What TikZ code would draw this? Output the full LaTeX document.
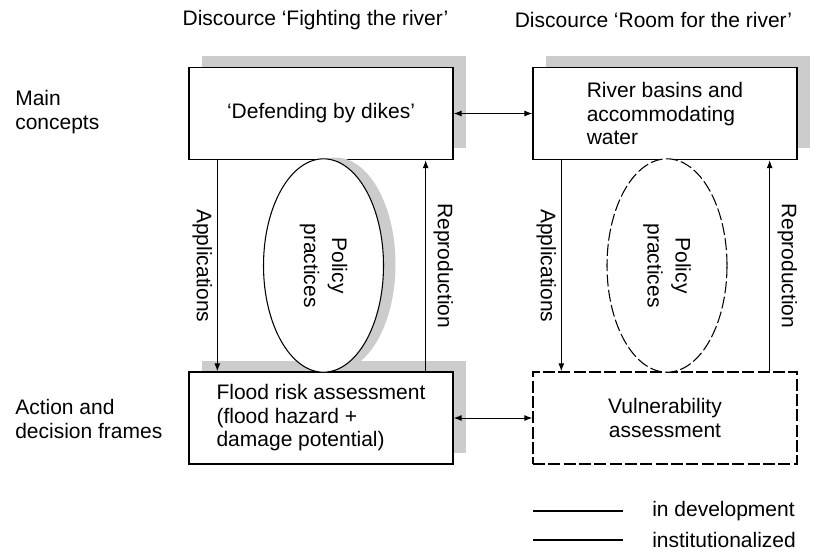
\documentclass[tikz,border=0pt]{standalone}
\usepackage{fontspec}
\setmainfont{Liberation Sans}
\usetikzlibrary{arrows.meta,shapes.geometric,shadows,calc}
\tikzset{
  frame/.style={draw, line width=1pt, fill=white, minimum width=198pt, minimum height=69pt, inner sep=0pt},
  boxshadow/.style={drop shadow={shadow xshift=10pt, shadow yshift=8.5pt, fill=gray!40, opacity=1}},
  practice/.style={draw, ellipse, line width=0.8pt, fill=white, minimum width=90pt, minimum height=160pt, inner sep=0pt},
  ovalshadow/.style={drop shadow={shadow xshift=9pt, shadow yshift=1pt, fill=gray!40, opacity=1}},
  newer/.style={dash pattern=on 9pt off 2.5pt},
  flow/.style={-{Latex[length=6pt,width=4.5pt]}, line width=0.75pt},
  twoway/.style={{Latex[length=6pt,width=4.5pt]}-{Latex[length=6pt,width=4.5pt]}, line width=0.75pt},
  sidelbl/.style={align=left, anchor=west, inner sep=0pt},
}
\begin{document}
\begin{tikzpicture}[x=0.75pt, y=-0.75pt, font=\fontsize{15.75}{17.6}\selectfont]
  \useasboundingbox (0,0) rectangle (816,551);
  % headings and row labels
  \node (hdfight) at (315.5,20) {Discource ‘Fighting the river’};
  \node (hdroom) at (653.5,20) {Discource ‘Room for the river’};
  \node[sidelbl] (lblmain) at (15,112) {Main\\concepts};
  \node[sidelbl] (lblaction) at (15,419) {Action and\\decision frames};
  % boxes
  \node[frame, boxshadow] (dikes) at (321,113.5) {‘Defending by dikes’};
  \node[frame, boxshadow, align=left] (basins) at (665,113.5) {River basins and\\accommodating\\water};
  \node[frame, boxshadow, align=left] (floodrisk) at (321,418) {Flood risk assessment\\(flood hazard +\\damage potential)};
  \node[frame, newer, align=center] (vulner) at (665,418) {Vulnerability\\assessment};
  % policy practices
  \node[practice, ovalshadow] (pol1) at (323.5,265.5) {};
  \node[practice, newer] (pol2) at (667,265.5) {};
  \node[rotate=-90, align=center, font=\fontsize{15.75}{21}\selectfont] (pol1txt) at (pol1) {Policy\\practices};
  \node[rotate=-90, align=center, font=\fontsize{15.75}{21}\selectfont] (pol2txt) at (pol2) {Policy\\practices};
  % links
  \draw[twoway] (dikes.east) -- (basins.west);
  \draw[twoway] (floodrisk.east) -- (vulner.west);
  \draw[flow] ($(dikes.south west)+(29,0)$) -- ($(floodrisk.north west)+(29,0)$)
    node[midway, rotate=-90, anchor=north, inner sep=3.5pt] (app1) {Applications};
  \draw[flow] ($(floodrisk.north east)+(-28,0)$) -- ($(dikes.south east)+(-28,0)$)
    node[midway, rotate=-90, anchor=south, inner sep=5.5pt] (rep1) {Reproduction};
  \draw[flow] ($(basins.south west)+(29,0)$) -- ($(vulner.north west)+(29,0)$)
    node[midway, rotate=-90, anchor=north, inner sep=3.5pt] (app2) {Applications};
  \draw[flow] ($(vulner.north east)+(-28,0)$) -- ($(basins.south east)+(-28,0)$)
    node[midway, rotate=-90, anchor=south, inner sep=5.5pt] (rep2) {Reproduction};
  % legend
  \node[sidelbl] (ldev) at (652,511) {in development};
  \node[sidelbl] (linst) at (652,540) {institutionalized};
  \draw[line width=0.9pt] ($(ldev.west)+(-29,0)$) -- ++(-90,0);
  \draw[line width=0.9pt] ($(linst.west)+(-29,0)$) -- ++(-90,0);
\end{tikzpicture}
\end{document}
